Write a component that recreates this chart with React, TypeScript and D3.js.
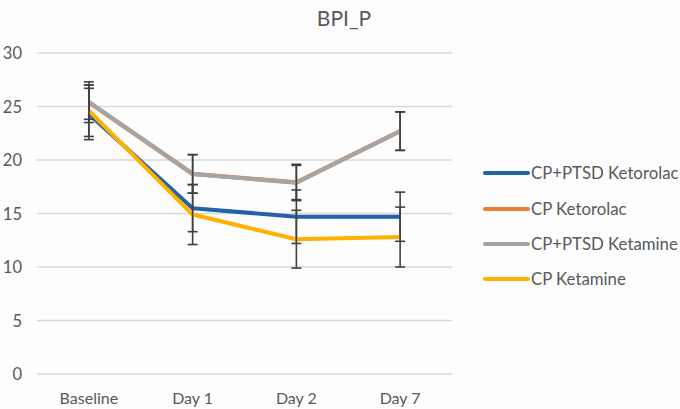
import * as d3 from "d3";
import { useEffect, useRef } from "react";

const categories = ["Baseline", "Day 1", "Day 2", "Day 7"];
const seriesNames = ["CP+PTSD Ketorolac", "CP Ketorolac", "CP+PTSD Ketamine", "CP Ketamine"];
const seriesColors = ["#2262a6", "#ed7d31", "#a5a5a5", "#ffb000"];

const ptsdKetorolac = [24.3, 15.5, 14.7, 14.7];
const cpKetorolac = [25.4, 18.7, 17.9, 22.7];
const ptsdKetamine = [25.4, 18.7, 17.9, 22.7];
const cpKetamine = [24.6, 14.9, 12.6, 12.8];

const ptsdKetorolacErr = [2.4, 2.2, 2.5, 2.3];
const cpKetorolacErr = [1.6, 1.8, 1.6, 1.8];
const ptsdKetamineErr = [1.9, 1.8, 1.7, 1.8];
const cpKetamineErr = [2.4, 2.8, 2.7, 2.8];

const yTicks = [0, 5, 10, 15, 20, 25, 30];

const W = 680;
const H = 409;
const font = "Lato, 'Open Sans', sans-serif";

export default function App() {
  const ref = useRef<SVGSVGElement | null>(null);

  useEffect(() => {
    const svg = d3.select(ref.current);
    svg.selectAll("*").remove();
    svg.attr("width", W).attr("height", H);

    svg.append("rect").attr("width", W).attr("height", H).attr("fill", "#fdfdfd");

    const x = d3.scaleBand().domain(categories).range([37, 452]);
    const y = d3.scaleLinear().domain([0, 30]).range([374, 53]);
    const cx = (c: string) => (x(c) as number) + x.bandwidth() / 2;

    // gridlines
    svg
      .append("g")
      .selectAll("line")
      .data(yTicks)
      .enter()
      .append("line")
      .attr("x1", 37)
      .attr("x2", 452)
      .attr("y1", (d) => y(d))
      .attr("y2", (d) => y(d))
      .attr("stroke", "#d9d9d9")
      .attr("stroke-width", 1.5);

    svg
      .append("g")
      .selectAll("text")
      .data(yTicks)
      .enter()
      .append("text")
      .attr("x", 22)
      .attr("y", (d) => y(d) + 6)
      .attr("text-anchor", "end")
      .attr("font-family", font)
      .attr("font-size", 16.5)
      .attr("fill", "#595959")
      .text((d) => d);

    svg
      .append("g")
      .selectAll("text")
      .data(categories)
      .enter()
      .append("text")
      .attr("x", (d) => cx(d))
      .attr("y", 404)
      .attr("text-anchor", "middle")
      .attr("font-family", font)
      .attr("font-size", 16)
      .attr("fill", "#595959")
      .text((d) => d);

    svg
      .append("text")
      .attr("x", 344)
      .attr("y", 26)
      .attr("text-anchor", "middle")
      .attr("font-family", font)
      .attr("font-size", 21)
      .attr("fill", "#595959")
      .text("BPI_P");

    const values = [ptsdKetorolac, cpKetorolac, ptsdKetamine, cpKetamine];
    const errors = [ptsdKetorolacErr, cpKetorolacErr, ptsdKetamineErr, cpKetamineErr];
    const widths = [4, 4.4, 4, 4];

    const line = d3
      .line<number>()
      .x((_, i) => cx(categories[i]))
      .y((d) => y(d));

    values.forEach((vals, s) => {
      svg
        .append("path")
        .datum(vals)
        .attr("d", line)
        .attr("fill", "none")
        .attr("stroke", seriesColors[s])
        .attr("stroke-width", widths[s])
        .attr("stroke-linejoin", "round");

      const g = svg.append("g").attr("stroke", "#404040").attr("stroke-width", 1.6);
      vals.forEach((v, i) => {
        const px = cx(categories[i]);
        const hi = y(v + errors[s][i]);
        const lo = y(v - errors[s][i]);
        g.append("line").attr("x1", px).attr("x2", px).attr("y1", hi).attr("y2", lo);
        g.append("line").attr("x1", px - 5).attr("x2", px + 5).attr("y1", hi).attr("y2", hi);
        g.append("line").attr("x1", px - 5).attr("x2", px + 5).attr("y1", lo).attr("y2", lo);
      });
    });

    // legend
    const legendY = [173, 209, 244, 279];
    const lg = svg.append("g");
    seriesNames.forEach((name, i) => {
      lg.append("line")
        .attr("x1", 485)
        .attr("x2", 528)
        .attr("y1", legendY[i])
        .attr("y2", legendY[i])
        .attr("stroke", seriesColors[i])
        .attr("stroke-width", 4)
        .attr("stroke-linecap", "round");
      lg.append("text")
        .attr("x", 531)
        .attr("y", legendY[i] + 6)
        .attr("font-family", font)
        .attr("font-size", 16.8)
        .attr("fill", "#595959")
        .text(name);
    });
  }, []);

  return <svg ref={ref} style={{ position: "absolute", left: 0, top: 0 }}></svg>;
}
